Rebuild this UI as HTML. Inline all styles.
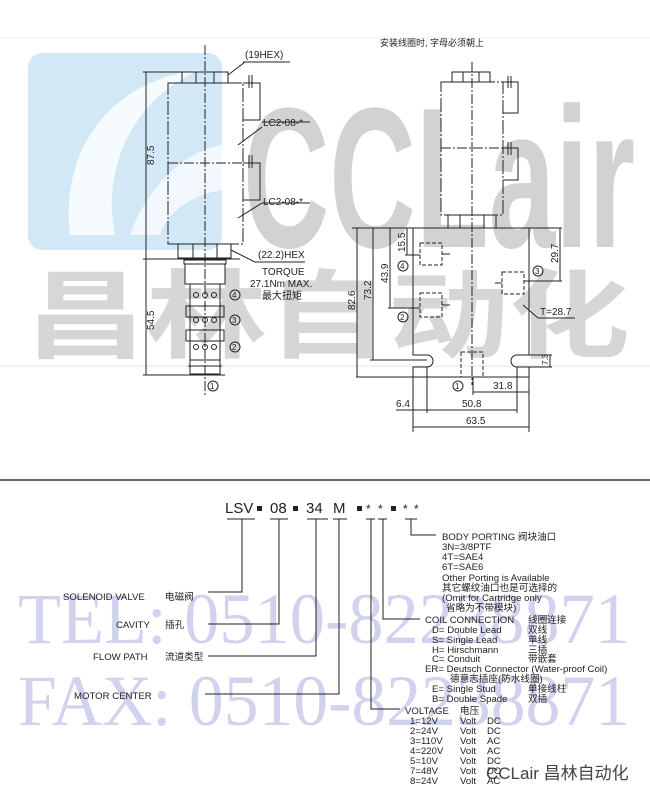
<!DOCTYPE html>
<html><head><meta charset="utf-8"><style>
html,body{margin:0;padding:0;background:#fff;}
svg{display:block;}
text{font-family:"Liberation Sans","Noto Sans CJK SC",sans-serif;fill:#222;}
</style></head><body>
<svg width="650" height="795" viewBox="0 0 650 795" xmlns="http://www.w3.org/2000/svg">
<rect width="650" height="795" fill="#fff"/>
<line x1="0" y1="38" x2="650" y2="38" stroke="#eee"/>
<line x1="0" y1="366" x2="650" y2="366" stroke="#e6e6e6"/>
<rect x="28" y="53" width="194" height="197" rx="14" fill="#d3e8f7"/>
<path d="M70 235 C 60 150 110 80 200 70 C 140 95 100 160 115 235 Z" fill="#fff" opacity="0.8"/>
<path d="M130 235 C 150 180 190 150 222 145 L222 190 C 190 195 165 215 160 235 Z" fill="#fff" opacity="0.7"/>
<text x="243" y="247" font-size="200" font-weight="bold" style="fill:#d2d2d2" textLength="392" lengthAdjust="spacingAndGlyphs">CCLair</text>
<text x="25" y="350" font-size="96" font-weight="bold" style="fill:#d6d6d6" textLength="605" lengthAdjust="spacingAndGlyphs">昌林自动化</text>

<g stroke="#222" stroke-width="1" fill="none">
<line x1="205" y1="45" x2="205" y2="395" stroke-dasharray="10,2,2,2"/>
<rect x="182" y="72" width="46" height="11"/>
<line x1="196" y1="72" x2="196" y2="83"/><line x1="214" y1="72" x2="214" y2="83"/>
<rect x="168" y="83" width="75" height="161" stroke-dasharray="14,2,2,2"/>
<line x1="168" y1="163" x2="260" y2="163" stroke-dasharray="10,2,2,2"/>
<polyline points="243,83 260,83 260,120 243,120"/>
<polyline points="243,163 260,163 260,200 243,200"/>
<line x1="249" y1="75" x2="249" y2="88"/><line x1="252" y1="75" x2="252" y2="88"/>
<line x1="249" y1="155" x2="249" y2="168"/><line x1="252" y1="155" x2="252" y2="168"/>
<line x1="238" y1="145" x2="262" y2="127"/><line x1="262" y1="122" x2="310" y2="122"/>
<line x1="238" y1="218" x2="262" y2="203"/><line x1="262" y1="203" x2="310" y2="203"/>
<line x1="228" y1="75" x2="245" y2="62"/><line x1="243" y1="62" x2="290" y2="62"/>
<rect x="178" y="244" width="53" height="14"/>
<line x1="193" y1="244" x2="193" y2="258"/><line x1="217" y1="244" x2="217" y2="258"/>
<line x1="231" y1="250" x2="255" y2="262"/><line x1="255" y1="262" x2="305" y2="262"/>
<line x1="143" y1="259" x2="240" y2="259"/>
<line x1="143" y1="72" x2="182" y2="72"/>
<line x1="146" y1="72" x2="146" y2="375"/>
<line x1="143" y1="375" x2="225" y2="375"/>
<rect x="184" y="260" width="42" height="4"/>
<rect x="185" y="264" width="40" height="20"/>
<line x1="190" y1="284" x2="190" y2="360"/><line x1="220" y1="284" x2="220" y2="360"/>
<rect x="186" y="306" width="38" height="11"/><rect x="186" y="330" width="38" height="11"/>
<rect x="190" y="360" width="30" height="14"/>
<line x1="188" y1="366" x2="222" y2="366"/>
<circle cx="196" cy="295" r="2.5"/><circle cx="205" cy="295" r="2.5"/><circle cx="214" cy="295" r="2.5"/>
<circle cx="196" cy="320" r="2.5"/><circle cx="205" cy="320" r="2.5"/><circle cx="214" cy="320" r="2.5"/>
<circle cx="196" cy="347" r="2.5"/><circle cx="205" cy="347" r="2.5"/><circle cx="214" cy="347" r="2.5"/>
<circle cx="235" cy="295" r="5"/><circle cx="235" cy="320" r="5"/><circle cx="235" cy="347" r="5"/>
<circle cx="213" cy="386" r="5"/>

<line x1="472" y1="62" x2="472" y2="385" stroke-dasharray="10,2,2,2"/>
<rect x="452" y="72" width="38" height="10"/>
<line x1="463" y1="72" x2="463" y2="82"/><line x1="479" y1="72" x2="479" y2="82"/>
<rect x="441" y="82" width="62" height="133" stroke-dasharray="14,2,2,2"/>
<line x1="441" y1="148" x2="518" y2="148" stroke-dasharray="10,2,2,2"/>
<polyline points="503,82 518,82 518,113 503,113"/>
<polyline points="503,148 518,148 518,180 503,180"/>
<line x1="508" y1="76" x2="508" y2="88"/><line x1="511" y1="76" x2="511" y2="88"/>
<line x1="508" y1="142" x2="508" y2="155"/><line x1="511" y1="142" x2="511" y2="155"/>
<rect x="448" y="215" width="48" height="13"/>
<line x1="460" y1="215" x2="460" y2="228"/><line x1="484" y1="215" x2="484" y2="228"/>
<line x1="352" y1="228" x2="562" y2="228"/>
<path d="M413 228 V355 H427 A6 6 0 0 1 427 367 H413 V377 H356"/>
<path d="M529 228 V355 H517 A6 6 0 0 0 517 367 H529 V377 H413"/>
<line x1="529" y1="377" x2="529" y2="432"/>
<line x1="413" y1="377" x2="413" y2="432"/>
<rect x="420" y="243" width="22" height="22" stroke-dasharray="4,2"/>
<line x1="442" y1="254" x2="450" y2="254"/>
<rect x="420" y="293" width="22" height="24" stroke-dasharray="4,2"/>
<line x1="442" y1="305" x2="450" y2="305"/>
<rect x="502" y="272" width="22" height="22" stroke-dasharray="4,2"/>
<line x1="495" y1="283" x2="502" y2="283"/>
<rect x="461" y="352" width="22" height="25" stroke-dasharray="4,2"/>
<circle cx="403" cy="266" r="5"/><circle cx="403" cy="317" r="5"/>
<circle cx="538" cy="271" r="5"/><circle cx="458" cy="386" r="5"/>
<line x1="357" y1="228" x2="357" y2="377"/>
<line x1="373" y1="228" x2="373" y2="360"/><line x1="370" y1="360" x2="427" y2="360"/>
<line x1="390" y1="228" x2="390" y2="308"/><line x1="388" y1="308" x2="420" y2="308"/>
<line x1="407" y1="228" x2="407" y2="255"/><line x1="405" y1="255" x2="420" y2="255"/>
<line x1="560" y1="228" x2="560" y2="281"/><line x1="524" y1="281" x2="562" y2="281"/>
<line x1="550" y1="355" x2="550" y2="367"/><line x1="529" y1="355" x2="552" y2="355"/><line x1="529" y1="367" x2="552" y2="367"/>
<line x1="473" y1="377" x2="473" y2="395"/>
<line x1="473" y1="392" x2="529" y2="392"/>
<line x1="427" y1="367" x2="427" y2="413"/><line x1="517" y1="367" x2="517" y2="413"/>
<line x1="396" y1="410" x2="517" y2="410"/>
<line x1="413" y1="427" x2="529" y2="427"/>
<line x1="523" y1="305" x2="538" y2="318"/><line x1="538" y1="318" x2="575" y2="318"/>
</g>
<g font-size="10">
<text x="245" y="58">(19HEX)</text>
<text x="263" y="126">LC2-08-*</text>
<text x="263" y="205">LC2-08-*</text>
<text x="258" y="258">(22.2)HEX</text>
<text x="262" y="275">TORQUE</text>
<text x="250" y="287">27.1Nm MAX.</text>
<text x="262" y="299">最大扭矩</text>
<text transform="translate(154,165) rotate(-90)">87.5</text>
<text transform="translate(154,330) rotate(-90)">54.5</text>
<text x="232" y="298" font-size="8">4</text><text x="232" y="323" font-size="8">3</text><text x="232" y="350" font-size="8">2</text>
<text x="210" y="389" font-size="8">1</text>
<text x="380" y="46" font-size="9">安装线圈时, 字母必须朝上</text>
<text transform="translate(355,310) rotate(-90)">82.6</text>
<text transform="translate(371,300) rotate(-90)">73.2</text>
<text transform="translate(388,283) rotate(-90)">43.9</text>
<text transform="translate(405,252) rotate(-90)">15.5</text>
<text transform="translate(558,263) rotate(-90)">29.7</text>
<text transform="translate(548,365) rotate(-90)" font-size="8">7.3</text>
<text x="400" y="269" font-size="8">4</text><text x="400" y="320" font-size="8">2</text>
<text x="535" y="274" font-size="8">3</text><text x="455" y="389" font-size="8">1</text>
<text x="540" y="315">T=28.7</text>
<text x="493" y="389">31.8</text>
<text x="462" y="407">50.8</text>
<text x="396" y="407">6.4</text>
<text x="466" y="424">63.5</text>
</g>

<line x1="0" y1="480" x2="650" y2="480" stroke="#333" stroke-width="1.6"/>

<g font-size="72">
<text x="18" y="643" style="fill:#d0d2ee;font-family:'Liberation Serif',serif" textLength="612" lengthAdjust="spacingAndGlyphs">TEL: 0510-82238871</text>
<text x="18" y="725" style="fill:#d0d2ee;font-family:'Liberation Serif',serif" textLength="612" lengthAdjust="spacingAndGlyphs">FAX: 0510-82238871</text>
</g>

<g font-size="15">
<text x="225" y="513">LSV</text>
<text x="270" y="513">08</text>
<text x="306" y="513">34</text>
<text x="333" y="513">M</text>
<text x="366" y="513" font-size="12">*</text><text x="378" y="513" font-size="12">*</text>
<text x="403" y="513" font-size="12">*</text><text x="414" y="513" font-size="12">*</text>
</g>
<g fill="#222">
<rect x="257" y="506" width="5" height="5"/><rect x="293" y="506" width="5" height="5"/>
<rect x="357" y="506" width="5" height="5"/><rect x="391" y="506" width="5" height="5"/>
</g>
<g stroke="#222" stroke-width="1" fill="none">
<line x1="227" y1="519" x2="255" y2="519"/><polyline points="242,519 242,592 208,592"/>
<line x1="270" y1="519" x2="288" y2="519"/><polyline points="279,519 279,624 208,624"/>
<line x1="307" y1="519" x2="328" y2="519"/><polyline points="316,519 316,656 208,656"/>
<line x1="333" y1="519" x2="347" y2="519"/><polyline points="339,519 339,694 205,694"/>
<line x1="366" y1="519" x2="375" y2="519"/><polyline points="371,519 371,709 400,709"/>
<line x1="378" y1="519" x2="387" y2="519"/><polyline points="383,519 383,619 420,619"/>
<line x1="405" y1="519" x2="417" y2="519"/><polyline points="411,519 411,535 436,535"/>
</g>
<g font-size="9.6">
<text x="63" y="600">SOLENOID VALVE</text><text x="165" y="600">电磁阀</text>
<text x="116" y="628">CAVITY</text><text x="165" y="628">插孔</text>
<text x="93" y="660">FLOW PATH</text><text x="165" y="660">流道类型</text>
<text x="74" y="699">MOTOR CENTER</text>
<text x="442" y="540">BODY PORTING 阀块油口</text>
<text x="442" y="550">3N=3/8PTF</text>
<text x="442" y="560">4T=SAE4</text>
<text x="442" y="570">6T=SAE6</text>
<text x="442" y="581">Other Porting is Available</text>
<text x="442" y="591">其它螺纹油口也是可选择的</text>
<text x="442" y="601">(Omit for Cartridge only</text>
<text x="446" y="611">省略为不带模块)</text>
<text x="425" y="623">COIL CONNECTION</text><text x="528" y="623">线圈连接</text>
<text x="432" y="633">D= Double Lead</text><text x="528" y="633">双线</text>
<text x="432" y="643">S= Single Lead</text><text x="528" y="643">单线</text>
<text x="432" y="653">H= Hirschmann</text><text x="528" y="653">三插</text>
<text x="432" y="662">C= Conduit</text><text x="528" y="662">带嵌套</text>
<text x="425" y="672">ER= Deutsch Connector (Water-proof Coil)</text>
<text x="450" y="682">德意志插座(防水线圈)</text>
<text x="432" y="692">E= Single Stud</text><text x="528" y="692">单接线柱</text>
<text x="432" y="702">B= Double Spade</text><text x="528" y="702">双插</text>
<text x="405" y="714">VOLTAGE</text><text x="460" y="714">电压</text>
<text x="410" y="724">1=12V</text><text x="460" y="724">Volt</text><text x="487" y="724">DC</text>
<text x="410" y="734">2=24V</text><text x="460" y="734">Volt</text><text x="487" y="734">DC</text>
<text x="410" y="744">3=110V</text><text x="460" y="744">Volt</text><text x="487" y="744">AC</text>
<text x="410" y="754">4=220V</text><text x="460" y="754">Volt</text><text x="487" y="754">AC</text>
<text x="410" y="764">5=10V</text><text x="460" y="764">Volt</text><text x="487" y="764">DC</text>
<text x="410" y="774">7=48V</text><text x="460" y="774">Volt</text><text x="487" y="774">DC</text>
<text x="410" y="784">8=24V</text><text x="460" y="784">Volt</text><text x="487" y="784">AC</text>
</g>
<text x="486" y="779" font-size="17" style="fill:#444">CCLair 昌林自动化</text>
</svg>
</body></html>
